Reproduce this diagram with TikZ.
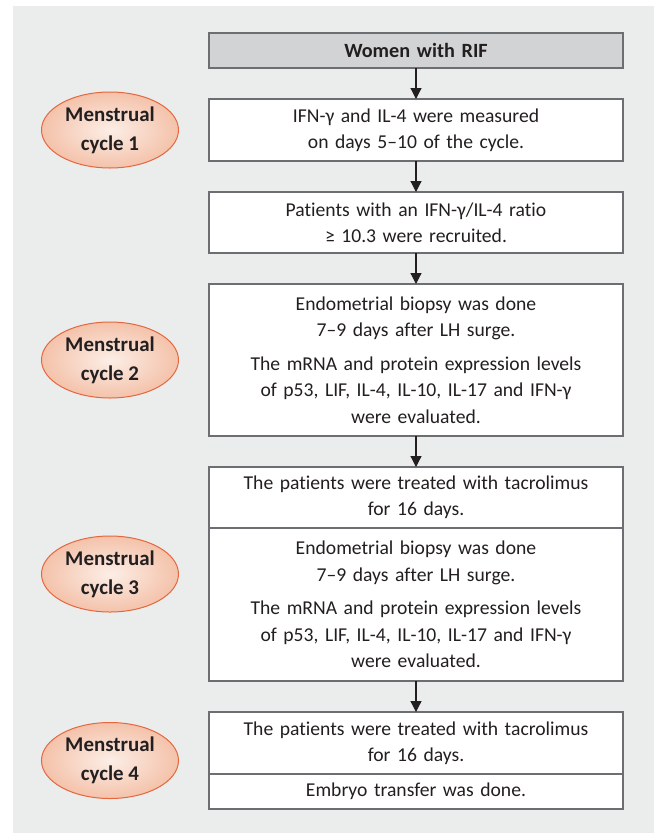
\documentclass[tikz,border=0pt]{standalone}
\usepackage{fontspec}
\setmainfont{Carlito}[Ligatures={NoCommon}]
\usetikzlibrary{positioning,arrows.meta,calc,shapes.geometric}
\definecolor{panel}{HTML}{EBEDEC}
\definecolor{frame}{HTML}{6D6E71}
\definecolor{head}{HTML}{D1D3D4}
\definecolor{cycleline}{HTML}{E4673F}
\definecolor{cyclein}{HTML}{FCEEE6}
\definecolor{cycleout}{HTML}{F4C2AA}
\definecolor{ink}{HTML}{231F20}

\begin{document}
\begin{tikzpicture}[
  x=1bp, y=1bp,
  font=\fontsize{19.7}{26.5}\selectfont,
  block/.style={draw=frame, line width=1.5bp, fill=white, text=ink, align=center, text width=410bp, minimum width=414bp, inner sep=0pt, outer sep=0pt},
  headblock/.style={block, fill=head, font=\fontsize{20.3}{26.5}\selectfont\bfseries},
  cyclenode/.style={ellipse, draw=cycleline, line width=1bp, inner color=cyclein, outer color=cycleout, minimum width=137bp, minimum height=76bp, inner sep=0pt, align=center, text=ink, font=\fontsize{21}{29}\selectfont\bfseries},
  arr/.style={-{Triangle[width=11bp,length=11bp]}, line width=1.2bp, ink},
  node distance=31bp
]

% page and grey panel
\useasboundingbox (0,0) rectangle (654,-833);
\fill[panel] (13,-6) rectangle (654,-833);

% flow boxes
\node[headblock, minimum height=35bp] (women) at (416,-50.5) {Women with RIF};
\node[block, minimum height=62bp, below=of women] (measure) {IFN-γ and IL-4 were measured\\on days 5–10 of the cycle.};
\node[block, minimum height=61bp, below=of measure] (recruit) {Patients with an IFN-γ/IL-4 ratio\\≥ 10.3 were recruited.};
\node[block, minimum height=152bp, below=of recruit] (evalA) {Endometrial biopsy was done\\7–9 days after LH surge.\\[7bp]The mRNA and protein expression levels\\of p53, LIF, IL-4, IL-10, IL-17 and IFN-γ\\were evaluated.};
\node[block, minimum height=61bp, below=of evalA] (treatA) {The patients were treated with tacrolimus\\for 16 days.};
\node[block, minimum height=153bp, below=0bp of treatA] (evalB) {Endometrial biopsy was done\\7–9 days after LH surge.\\[7bp]The mRNA and protein expression levels\\of p53, LIF, IL-4, IL-10, IL-17 and IFN-γ\\were evaluated.};
\node[block, minimum height=62bp, below=of evalB] (treatB) {The patients were treated with tacrolimus\\for 16 days.};
\node[block, minimum height=35bp, below=0bp of treatB] (transfer) {Embryo transfer was done.};

% cycle labels
\coordinate (midC) at ($(treatA.north west)!0.5!(evalB.south west)$);
\coordinate (midD) at ($(treatB.north west)!0.5!(transfer.south west)$);
\node[cyclenode, left=30bp of measure] (cycA) {Menstrual\\cycle 1};
\node[cyclenode, left=30bp of evalA] (cycB) {Menstrual\\cycle 2};
\node[cyclenode, left=30bp of midC] (cycC) {Menstrual\\cycle 3};
\node[cyclenode, left=30bp of midD] (cycD) {Menstrual\\cycle 4};

% arrows
\draw[arr] (women) -- (measure);
\draw[arr] (measure) -- (recruit);
\draw[arr] (recruit) -- (evalA);
\draw[arr] (evalA) -- (treatA);
\draw[arr] (evalB) -- (treatB);

\end{tikzpicture}
\end{document}
